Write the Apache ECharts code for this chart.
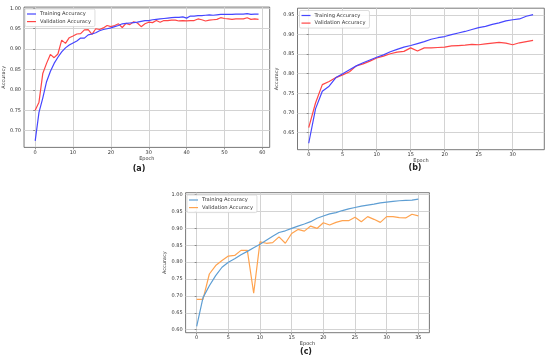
<!DOCTYPE html>
<html><head><meta charset="utf-8">
<script src="https://cdn.jsdelivr.net/npm/echarts@6/dist/echarts.min.js"></script>
<style>html,body{margin:0;padding:0;background:#fff}#c{width:550px;height:360px}</style>
</head><body><div id="c"></div>
<script>
// ---- data ----
const trainA = [0.675,0.745,0.78,0.82,0.845,0.865,0.88,0.893,0.903,0.91,0.915,0.92,0.927,0.927,0.935,0.937,0.94,0.945,0.948,0.95,0.952,0.955,0.958,0.962,0.963,0.964,0.965,0.966,0.968,0.97,0.97,0.972,0.973,0.974,0.975,0.976,0.977,0.978,0.978,0.979,0.976,0.981,0.981,0.982,0.982,0.983,0.984,0.983,0.984,0.985,0.985,0.985,0.985,0.986,0.986,0.986,0.987,0.985,0.986,0.986];
const valA = [0.75,0.77,0.84,0.865,0.887,0.879,0.888,0.922,0.914,0.928,0.932,0.937,0.938,0.947,0.948,0.936,0.95,0.948,0.952,0.958,0.955,0.958,0.962,0.953,0.963,0.96,0.967,0.964,0.955,0.962,0.966,0.965,0.97,0.966,0.97,0.97,0.971,0.971,0.969,0.97,0.969,0.97,0.97,0.974,0.972,0.969,0.971,0.972,0.973,0.977,0.975,0.974,0.973,0.974,0.974,0.974,0.977,0.973,0.974,0.973];
const trainB = [0.622,0.71,0.755,0.768,0.79,0.80,0.81,0.82,0.828,0.835,0.842,0.848,0.856,0.862,0.868,0.872,0.877,0.882,0.888,0.892,0.895,0.90,0.904,0.908,0.913,0.918,0.921,0.926,0.93,0.935,0.938,0.94,0.947,0.951];
const valB = [0.662,0.725,0.772,0.78,0.79,0.797,0.805,0.82,0.825,0.832,0.84,0.845,0.851,0.855,0.857,0.866,0.858,0.866,0.866,0.867,0.868,0.871,0.872,0.873,0.875,0.874,0.876,0.878,0.88,0.878,0.874,0.879,0.882,0.885];
const trainC = [0.61,0.695,0.73,0.76,0.785,0.80,0.81,0.822,0.832,0.843,0.853,0.865,0.877,0.888,0.893,0.9,0.907,0.913,0.92,0.93,0.937,0.943,0.947,0.953,0.958,0.962,0.966,0.969,0.972,0.976,0.978,0.98,0.982,0.983,0.984,0.987];
const valC = [0.69,0.69,0.765,0.79,0.805,0.818,0.82,0.835,0.835,0.708,0.86,0.856,0.858,0.875,0.856,0.885,0.897,0.892,0.907,0.9,0.917,0.91,0.918,0.923,0.923,0.933,0.92,0.935,0.927,0.918,0.935,0.935,0.932,0.931,0.942,0.937];
const xTicksA = [0,10,20,30,40,50,60];
const yTicksA = [0.70,0.75,0.80,0.85,0.90,0.95,1.00];
const xTicksB = [0,5,10,15,20,25,30];
const yTicksB = [0.65,0.70,0.75,0.80,0.85,0.90,0.95];
const xTicksC = [0,5,10,15,20,25,30,35];
const yTicksC = [0.60,0.65,0.70,0.75,0.80,0.85,0.90,0.95,1.00];
const legendNames = ['Training Accuracy','Validation Accuracy'];
const panelLabels = ['(a)','(b)','(c)'];

const pairs = arr => arr.map((v,i)=>[i,v]);
const FONT = 'DejaVu Sans';
const grids = [
  {left:23.1, top:7.1, width:246.6, height:140.3},
  {left:297.5, top:8.2, width:246.8, height:141.5},
  {left:185.6, top:192.7, width:243.8, height:140}
];
const xr = [[-2.95,61.95],[-1.65,34.65],[-1.75,36.75]];
const yr = [[0.659,1.003],[0.6055,0.9675],[0.591,1.0059]];
const xt = [xTicksA,xTicksB,xTicksC];
const yt = [yTicksA,yTicksB,yTicksC];

function xAxis(i){
  return {type:'value', gridIndex:i, min:xr[i][0], max:xr[i][1],
    name:'Epoch', nameLocation:'middle', nameGap:9,
    nameTextStyle:{fontSize:5, color:'#333', fontFamily:FONT},
    axisLine:{show:false},
    axisTick:{show:true, length:2, customValues:xt[i], lineStyle:{color:'#555', width:0.6}},
    axisLabel:{customValues:xt[i], fontSize:5, color:'#333', margin:3, fontFamily:FONT, formatter:v=>String(v)},
    splitLine:{show:true, lineStyle:{color:'#d3d3d3', width:1}}};
}
function yAxis(i){
  return {type:'value', gridIndex:i, min:yr[i][0], max:yr[i][1],
    name:'Accuracy', nameLocation:'middle', nameGap:i===2?15:16, nameRotate:90,
    nameTextStyle:{fontSize:5, color:'#333', fontFamily:FONT},
    axisLine:{show:false},
    axisTick:{show:true, length:2, customValues:yt[i], lineStyle:{color:'#555', width:0.6}},
    axisLabel:{customValues:yt[i], fontSize:5, color:'#333', margin:3, fontFamily:FONT, formatter:v=>v.toFixed(2)},
    splitLine:{show:true, lineStyle:{color:'#d3d3d3', width:1}}};
}
const colors = [['#4646ff','#ff4646'],['#4646ff','#ff4646'],['#5e9ed3','#ffa34f']];
const dataSets = [[trainA,valA],[trainB,valB],[trainC,valC]];
const series = [];
for(let i=0;i<3;i++){
  for(let j=0;j<2;j++){
    series.push({type:'line', name:legendNames[j], xAxisIndex:i, yAxisIndex:i,
      data:pairs(dataSets[i][j]), symbol:'none', silent:true, animation:false,
      color:colors[i][j], lineStyle:{width:1.2, color:colors[i][j]}, z:j===0?3:2});
  }
}
const legendPos = [{left:25, top:9},{left:299.5, top:10.5},{left:187, top:195}];
const legends = legendPos.map((p,i)=>({
  left:p.left, top:p.top, orient:'vertical', itemGap:2.6, itemWidth:9, itemHeight:1.2, icon:'rect',
  padding:[2.5,4,2.5,2], borderColor:'#cfcfcf', borderWidth:0.7, borderRadius:1.5, backgroundColor:'rgba(255,255,255,0.85)',
  textStyle:{fontSize:5.2, color:'#333', fontFamily:FONT, padding:[0,0,0,-1]},
  selectedMode:false,
  data:legendNames.map((n,j)=>({name:n, icon:'rect', itemStyle:{color:colors[i][j]}}))
}));
const labelPos = [[139,169],[415,168],[306,352]];
const chart = echarts.init(document.getElementById('c'), null, {renderer:'canvas'});
chart.setOption({
  animation:false,
  backgroundColor:'#fff',
  grid: grids.map(g=>Object.assign({show:true, borderColor:'#555', borderWidth:0.8, backgroundColor:'#fff', containLabel:false}, g)),
  xAxis:[0,1,2].map(xAxis),
  yAxis:[0,1,2].map(yAxis),
  legend: legends,
  series: series,
  graphic: panelLabels.map((t,i)=>({type:'text', x:labelPos[i][0], y:labelPos[i][1],
    style:{text:t, fontSize:8, fontWeight:'bold', fill:'#222', fontFamily:FONT, align:'center', verticalAlign:'middle'}}))
});
</script></body></html>
